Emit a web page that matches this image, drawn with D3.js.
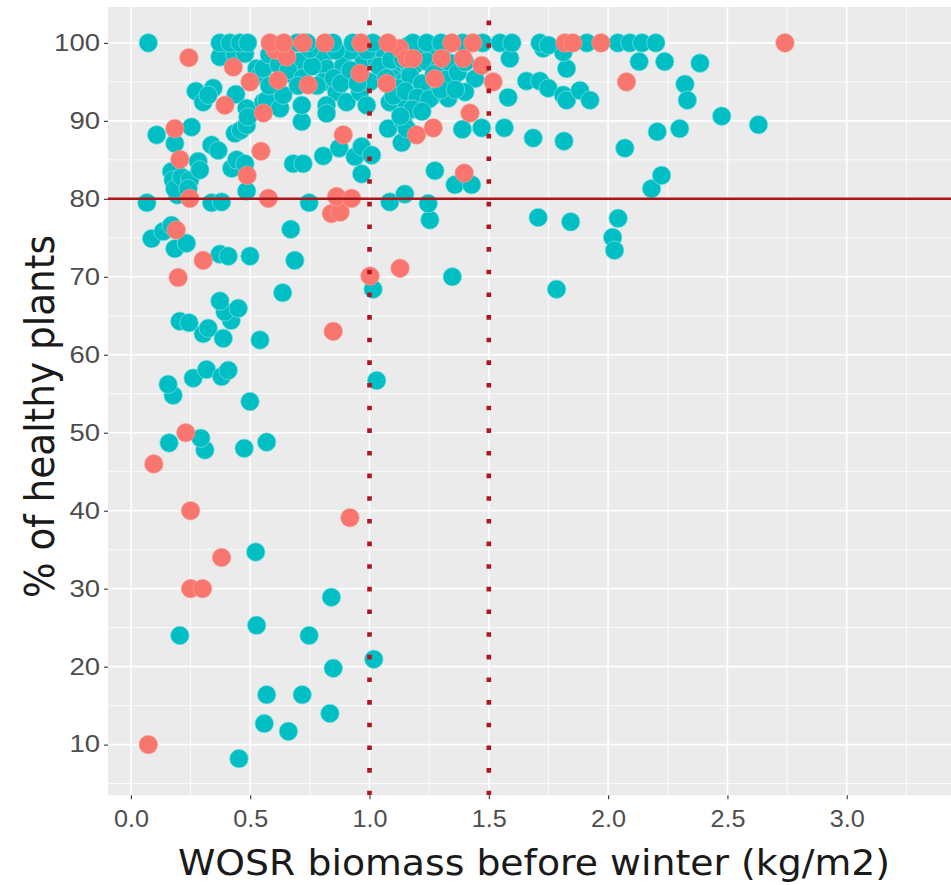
<!DOCTYPE html>
<html>
<head>
<meta charset="utf-8">
<script src="https://cdn.jsdelivr.net/npm/d3@7"></script>
<style>
  html, body { margin: 0; padding: 0; background: #ffffff; }
  svg { display: block; }
</style>
</head>
<body>
<svg id="chart" width="951" height="885"></svg>
<script>
// ---------------- DATA ----------------
const xTickValues = [0, 0.5, 1.0, 1.5, 2.0, 2.5, 3.0];
const xMinorValues = [0.25, 0.75, 1.25, 1.75, 2.25, 2.75, 3.25];
const yTickValues = [10, 20, 30, 40, 50, 60, 70, 80, 90, 100];
const yMinorValues = [5, 15, 25, 35, 45, 55, 65, 75, 85, 95];
const thresholdHealthy = [80];
const thresholdBiomass = [1.0, 1.5];
const xLabel = "WOSR biomass before winter (kg/m2)";
const yLabel = "% of healthy plants";

// [biomass kg/m2, % healthy plants]
const tealPoints = [
  [0.453,8.2],[0.66,11.7],[0.559,12.7],[0.834,14.0],[0.569,16.4],[0.718,16.4],[0.848,19.8],[1.018,20.95],
  [0.205,24.0],[0.747,24.0],[0.527,25.3],[0.84,28.9],[0.523,34.7],
  [0.31,47.8],[0.293,49.3],[0.16,48.7],[0.475,48.0],[0.569,48.8],[0.499,54.0],[0.177,54.8],[0.156,56.2],
  [0.261,57.0],[0.317,58.1],[0.38,57.2],[0.408,58.0],[1.03,56.7],
  [0.541,61.9],[0.387,62.1],[0.303,62.7],[0.324,63.4],[0.205,64.3],[0.244,64.1],[0.42,64.4],[0.394,65.5],
  [0.45,65.95],[0.373,66.9],[0.636,67.95],[1.015,68.4],[1.347,70.0],[1.784,68.4],
  [0.373,72.9],[0.408,72.65],[0.499,72.65],[0.687,72.1],[0.184,73.6],[0.233,74.3],[0.087,74.9],[0.135,75.8],
  [0.17,76.6],[0.67,76.1],[1.253,77.3],[1.707,77.6],[1.843,77.05],[2.042,77.5],[2.019,75.05],[2.027,73.4],
  [0.067,79.5],[0.195,80.5],[0.338,79.5],[0.38,79.6],[0.485,81.0],[0.747,79.5],[1.085,79.6],[1.148,80.6],
  [1.246,79.4],[2.182,81.3],[2.224,83.0],
  [0.17,83.5],[0.177,82.4],[0.184,81.3],[0.212,82.8],[0.247,82.4],[0.24,81.3],[0.282,84.8],[0.289,83.7],
  [0.422,83.9],[0.443,85.0],[0.478,84.5],[0.338,86.9],[0.366,86.2],[0.184,87.1],[0.108,88.2],[0.254,89.2],
  [0.436,88.4],[0.46,88.8],[0.485,89.45],[0.68,84.5],[0.722,84.5],[0.806,85.5],[0.873,86.5],[0.939,85.4],
  [0.967,86.7],[1.009,85.6],[0.967,83.2],[0.716,89.9],[1.078,89.0],[1.135,87.2],[1.141,89.9],[1.156,89.0],
  [1.274,83.6],[1.358,81.8],[1.428,81.8],[1.389,88.9],[1.47,89.1],[1.565,89.1],[1.686,87.8],[1.815,87.4],
  [2.07,86.5],[2.206,88.6],[2.3,89.0],[2.476,90.6],[2.63,89.5],
  [0.272,93.8],[0.303,92.4],[0.345,94.2],[0.324,93.3],[0.44,93.4],[0.485,91.6],[0.49,90.5],[0.373,98.2],
  [0.436,98.5],[0.478,98.6],[0.527,96.7],[0.541,95.9],[0.555,92.4],[0.569,92.65],[0.555,96.7],[0.625,91.6],
  [0.638,93.3],[0.68,95.9],[0.7,97.0],[0.708,97.6],[0.716,92.0],[0.806,98.2],[0.82,96.7],[0.89,97.1],
  [0.806,95.0],[0.862,93.7],[0.904,92.4],[0.82,92.0],[0.82,90.95],[0.96,93.7],[0.988,92.0],[1.002,95.0],
  [0.974,98.0],[1.03,97.6],[1.072,96.7],[1.127,96.7],[1.169,96.7],[1.1,95.4],[1.141,95.0],[1.085,92.4],
  [1.156,92.0],[1.442,95.4],[1.4,93.7],[1.33,92.9],[1.26,93.1],[1.588,98.0],[1.581,93.0],[1.658,95.1],
  [1.714,95.1],[1.749,94.2],[1.812,93.3],[1.826,92.65],[1.882,93.9],[1.924,92.65],[1.826,96.7],[1.812,98.8],
  [1.728,99.3],[2.13,97.6],[2.237,97.6],[2.385,97.4],[2.322,94.7],[2.332,92.65],
  [1.05,99.2],[1.1,99.0],[1.16,99.6],[1.21,99.0],[1.26,99.3],[1.31,99.5],[1.04,97.0],[1.09,97.8],
  [1.14,97.9],[1.19,97.2],[1.24,97.6],[1.29,96.8],[1.34,97.4],[1.07,95.5],[1.12,94.2],[1.17,95.8],
  [1.22,94.8],[1.27,96.0],[1.32,95.3],[1.37,96.2],[1.1,93.2],[1.15,93.8],[1.2,93.0],[1.25,92.8],
  [1.3,94.0],[1.18,91.5],[1.22,91.2],[1.13,90.6],[1.36,94.0],[1.4,97.5],
  [0.58,98.5],[0.62,97.2],[0.66,96.5],[0.72,95.5],[0.76,97.0],[0.78,94.5],[0.85,95.5],[0.88,94.8],
  [0.92,96.5],[0.92,99.0],[0.86,99.0],[0.75,99.2],[0.7,94.5],[0.95,94.8],[0.99,99.0],[0.58,94.5],
  [0.073,100],[0.373,100],[0.415,100],[0.457,100],[0.49,100],[0.696,100],[0.738,100],[0.847,100],
  [0.93,100],[1.014,100],[1.182,100],[1.24,100],[1.3,100],[1.391,100],[1.475,100],[1.547,100],
  [1.597,100],[1.714,100],[1.75,99.7],[1.911,100],[2.041,100],[2.091,100],[2.142,100],[2.2,100]
];

const salmonPoints = [
  [0.073,10.0],[0.25,30.0],[0.30,30.0],[0.38,34.0],[0.918,39.1],[0.25,40.0],[0.096,46.0],[0.23,50.0],
  [0.848,63.0],[0.198,69.9],[1.002,70.1],[1.128,71.1],[0.303,72.1],[0.19,76.0],[0.84,78.1],[0.877,78.3],
  [0.247,80.05],[0.576,80.05],[0.862,80.3],[0.925,80.05],[0.487,83.0],[0.205,85.05],[0.545,86.1],[0.89,88.2],
  [0.184,89.0],[0.394,92.0],[0.555,91.0],[0.499,95.0],[0.429,96.9],[0.243,98.1],[0.617,95.2],[0.604,99.1],
  [0.653,98.2],[0.743,94.6],[0.96,96.1],[1.072,94.8],[1.127,99.3],[1.156,98.0],[1.197,88.2],[1.267,89.1],
  [1.183,98.0],[1.302,98.0],[1.274,95.4],[1.393,98.0],[1.47,97.1],[1.518,95.0],[1.421,91.0],[1.397,83.3],
  [2.077,95.0],[2.741,100],
  [0.583,100],[0.641,100],[0.721,100],[0.813,100],[0.964,100],[1.077,100],[1.345,100],[1.433,100],
  [1.819,100],[1.852,100],[1.97,100]
];

// ---------------- CHART ----------------
const svg = d3.select("#chart");
const panel = { left: 108, top: 7, right: 951, bottom: 795.3 };

const x = d3.scaleLinear().domain([-0.096, 3.437]).range([panel.left, panel.right]);
const y = d3.scaleLinear().domain([3.5, 104.6]).range([panel.bottom, panel.top]);

const defs = svg.append("defs");
defs.append("clipPath").attr("id", "clip")
  .append("rect")
  .attr("x", panel.left).attr("y", panel.top)
  .attr("width", panel.right - panel.left).attr("height", panel.bottom - panel.top);

// panel background
svg.append("rect")
  .attr("x", panel.left).attr("y", panel.top)
  .attr("width", panel.right - panel.left).attr("height", panel.bottom - panel.top)
  .attr("fill", "#EBEBEB");

const grid = svg.append("g").attr("clip-path", "url(#clip)");
// minor grid
grid.selectAll(".vminor").data(xMinorValues).enter().append("line")
  .attr("x1", d => x(d)).attr("x2", d => x(d))
  .attr("y1", panel.top).attr("y2", panel.bottom)
  .attr("stroke", "#ffffff").attr("stroke-width", 0.8);
grid.selectAll(".hminor").data(yMinorValues).enter().append("line")
  .attr("y1", d => y(d)).attr("y2", d => y(d))
  .attr("x1", panel.left).attr("x2", panel.right)
  .attr("stroke", "#ffffff").attr("stroke-width", 0.8);
// major grid
grid.selectAll(".vmajor").data(xTickValues).enter().append("line")
  .attr("x1", d => x(d)).attr("x2", d => x(d))
  .attr("y1", panel.top).attr("y2", panel.bottom)
  .attr("stroke", "#ffffff").attr("stroke-width", 1.6);
grid.selectAll(".hmajor").data(yTickValues).enter().append("line")
  .attr("y1", d => y(d)).attr("y2", d => y(d))
  .attr("x1", panel.left).attr("x2", panel.right)
  .attr("stroke", "#ffffff").attr("stroke-width", 1.6);

// points
const pts = svg.append("g").attr("clip-path", "url(#clip)");
const R = 9.3;
pts.selectAll(".teal").data(tealPoints).enter().append("circle")
  .attr("cx", d => x(d[0])).attr("cy", d => y(d[1])).attr("r", R)
  .attr("fill", "#00BFC4")
  .attr("stroke", "#7fe0e2").attr("stroke-width", 1).attr("stroke-opacity", 0.7);
pts.selectAll(".salmon").data(salmonPoints).enter().append("circle")
  .attr("cx", d => x(d[0])).attr("cy", d => y(d[1])).attr("r", R)
  .attr("fill", "#F8766D")
  .attr("stroke", "#f9a39d").attr("stroke-width", 1).attr("stroke-opacity", 0.6);

// reference lines
const refs = svg.append("g").attr("clip-path", "url(#clip)");
refs.selectAll(".hline").data(thresholdHealthy).enter().append("line")
  .attr("x1", panel.left).attr("x2", panel.right)
  .attr("y1", d => y(d)).attr("y2", d => y(d))
  .attr("stroke", "#a8161a").attr("stroke-width", 2.6);
refs.selectAll(".vline").data(thresholdBiomass).enter().append("line")
  .attr("x1", d => x(d)).attr("x2", d => x(d))
  .attr("y1", panel.bottom).attr("y2", panel.top)
  .attr("stroke", "#b0151d").attr("stroke-width", 4.6)
  .attr("stroke-dasharray", "4.6,18.05");

// axes
const fontTick = "'Liberation Sans', Arial, sans-serif";
const fontTitle = "'DejaVu Sans', Verdana, sans-serif";
const xAxis = d3.axisBottom(x).tickValues(xTickValues).tickFormat(d3.format(".1f"))
  .tickSize(4).tickPadding(11);
const gx = svg.append("g").attr("transform", `translate(0,${panel.bottom})`).call(xAxis);
gx.select(".domain").remove();
gx.selectAll(".tick line").attr("stroke", "#333333").attr("stroke-width", 1.1);
gx.selectAll(".tick text").attr("fill", "#4D4D4D")
  .style("font-family", fontTick).style("font-size", "23px")
  .attr("textLength", 35).attr("lengthAdjust", "spacingAndGlyphs");

const yAxis = d3.axisLeft(y).tickValues(yTickValues).tickFormat(d3.format("d"))
  .tickSize(4).tickPadding(4);
const gy = svg.append("g").attr("transform", `translate(${panel.left},0)`).call(yAxis);
gy.select(".domain").remove();
gy.selectAll(".tick line").attr("stroke", "#333333").attr("stroke-width", 1.1);
gy.selectAll(".tick text").attr("fill", "#4D4D4D")
  .style("font-family", fontTick).style("font-size", "23px")
  .attr("textLength", d => String(d).length * 15.3).attr("lengthAdjust", "spacingAndGlyphs");

// axis titles
svg.append("text")
  .attr("x", 178).attr("y", 875)
  .attr("textLength", 712).attr("lengthAdjust", "spacingAndGlyphs")
  .style("font-family", fontTitle).style("font-size", "36px")
  .attr("fill", "#1a1a1a")
  .text(xLabel);

svg.append("text")
  .attr("transform", "translate(54,598) rotate(-90)")
  .attr("x", 0).attr("y", 0)
  .attr("textLength", 363).attr("lengthAdjust", "spacingAndGlyphs")
  .style("font-family", fontTitle).style("font-size", "40px")
  .attr("fill", "#1a1a1a")
  .text(yLabel);
</script>
</body>
</html>
